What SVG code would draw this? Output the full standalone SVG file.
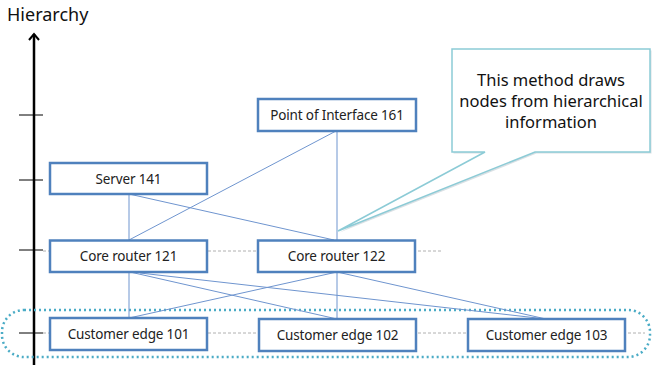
<svg xmlns="http://www.w3.org/2000/svg" width="652" height="365" viewBox="0 0 652 365">
<style>
.node rect{fill:#fff;stroke:#4f81bd;stroke-width:2.5}
.node text{font-family:"Noto Sans","Open Sans",sans-serif;font-size:13.5px;letter-spacing:-0.15px;fill:#222;text-anchor:middle}
.edge{stroke:#6f95cf;stroke-width:1;fill:none}
.level{stroke:#b0b0b0;stroke-width:1;stroke-dasharray:3 2;fill:none}
.tick{stroke:#000;stroke-width:1}
</style>
<defs>
<marker id="arr" viewBox="0 0 10 12" refX="8" refY="6" markerWidth="10" markerHeight="12" markerUnits="userSpaceOnUse" orient="auto">
<path d="M2,1 L8,6 L2,11" fill="none" stroke="#000" stroke-width="2"/>
</marker>
</defs>
<rect width="652" height="365" fill="#fff"/>
<g id="axis">
<text x="7" y="21" font-family="Noto Sans, Open Sans, sans-serif" font-size="18" fill="#111">Hierarchy</text>
<line x1="34" y1="365" x2="34" y2="34" stroke="#000" stroke-width="2.5" marker-end="url(#arr)"/>
<line class="tick" x1="19" y1="115" x2="43" y2="115"/>
<line class="tick" x1="19" y1="180" x2="43" y2="180"/>
<line class="tick" x1="19" y1="250" x2="43" y2="250"/>
<line class="tick" x1="19" y1="333" x2="43" y2="333"/>
</g>
<g id="levels">
<line class="level" x1="43" y1="251" x2="441" y2="251"/>
<line class="level" x1="43" y1="333" x2="645" y2="333"/>
</g>
<g id="group-edge">
<rect x="2" y="310" width="648" height="47" rx="22" ry="22" fill="none" stroke="#4bacc6" stroke-width="2.5" stroke-dasharray="2 3"/>
</g>
<g id="connectors">
<line class="edge" x1="129" y1="194" x2="129" y2="240"/>
<line class="edge" x1="129" y1="194" x2="334" y2="240"/>
<line class="edge" x1="336" y1="131" x2="129" y2="240"/>
<line class="edge" x1="337" y1="131" x2="337" y2="240"/>
<line class="edge" x1="129" y1="272" x2="129" y2="318"/>
<line class="edge" x1="130" y1="272" x2="337" y2="319"/>
<line class="edge" x1="140" y1="273" x2="546" y2="319"/>
<line class="edge" x1="337" y1="272" x2="129" y2="318"/>
<line class="edge" x1="337" y1="272" x2="337" y2="319"/>
<line class="edge" x1="337" y1="272" x2="546" y2="319"/>
</g>
<g id="n141" class="node"><rect x="50" y="163" width="157" height="31"/><text x="128.5" y="184">Server 141</text></g>
<g id="n161" class="node"><rect x="258" y="99" width="158" height="32"/><text x="337" y="120">Point of Interface 161</text></g>
<g id="n121" class="node"><rect x="50" y="240.5" width="157" height="31.5"/><text x="128.5" y="261">Core router 121</text></g>
<g id="n122" class="node"><rect x="258" y="240.5" width="157" height="31.5"/><text x="336.5" y="261">Core router 122</text></g>
<g id="n101" class="node"><rect x="50" y="318" width="157" height="32"/><text x="128.5" y="339">Customer edge 101</text></g>
<g id="n102" class="node"><rect x="259" y="319" width="157" height="32"/><text x="337.5" y="340">Customer edge 102</text></g>
<g id="n103" class="node"><rect x="468" y="319" width="157" height="32"/><text x="546.5" y="340">Customer edge 103</text></g>
<g id="callout">
<path d="M452,49 H650 V152 H535 L338,231 L485,152 H452 Z" transform="translate(1.5,1.5)" fill="#c9d3d8" opacity="0.7"/>
<path d="M452,49 H650 V152 H535 L338,231 L485,152 H452 Z" fill="#fff" stroke="#8ccbd6" stroke-width="1.5" stroke-linejoin="miter"/>
<g font-family="Noto Sans, Open Sans, sans-serif" font-size="16.5" fill="#111" text-anchor="middle">
<text x="551" y="86">This method draws</text>
<text x="551" y="107">nodes from hierarchical</text>
<text x="551" y="128">information</text>
</g>
</g>
</svg>
